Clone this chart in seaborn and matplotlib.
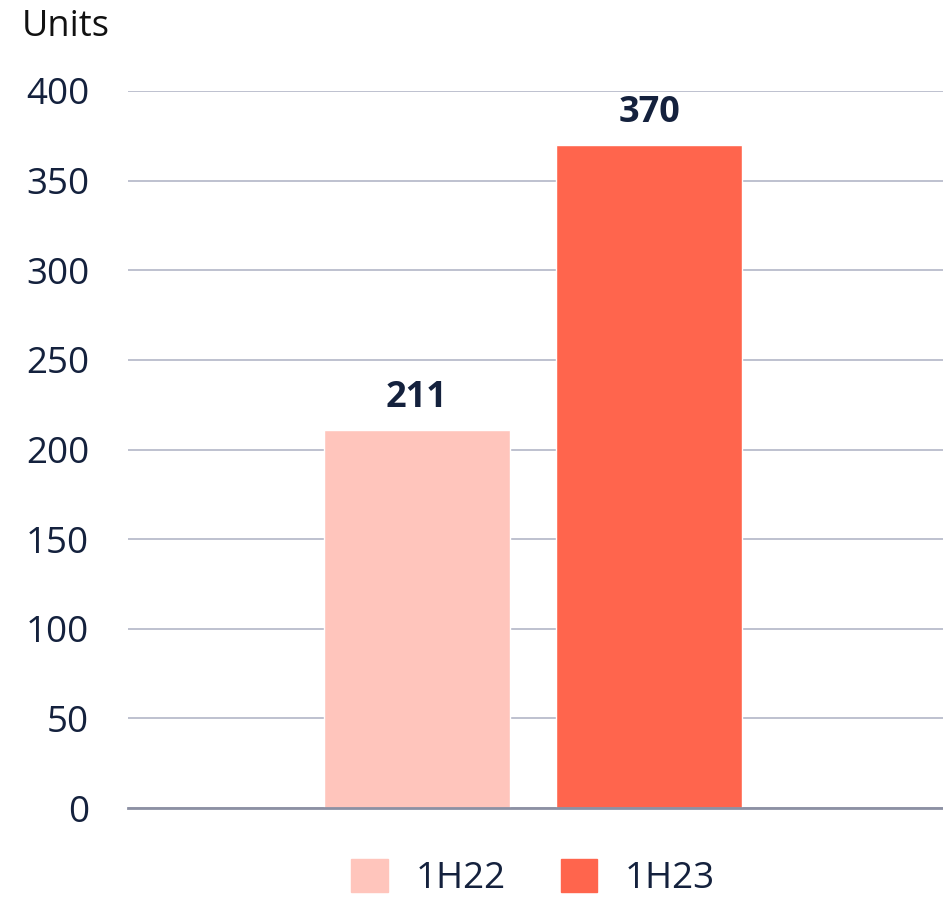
import pandas as pd
import seaborn as sns
import matplotlib.pyplot as plt

# data
periods = ['1H22', '1H23']
units = [211, 370]
colors = ['#FFC5BC', '#FF654D']

df = pd.DataFrame({'cat': ['all', 'all'], 'period': periods, 'units': units})

sns.set_style('white')
plt.rcParams['font.family'] = ['Open Sans', 'DejaVu Sans']
navy = '#14213D'

fig = plt.figure(figsize=(9.43, 8.99), dpi=100)
ax = fig.add_axes([128 / 943, 1 - 808 / 899, 1 - 128 / 943, (808 - 91) / 899])

sns.barplot(data=df, x='cat', y='units', hue='period', palette=colors,
            width=0.57, gap=0.2, saturation=1, legend=False, ax=ax)

ax.set_xlim(-0.497, 0.503)
ax.set_ylim(0, 400)
ax.set_yticks(range(0, 401, 50))
ax.yaxis.grid(True, color='#B9BCCB', linewidth=1.3)
ax.set_axisbelow(True)
for s in ['top', 'right', 'left']:
    ax.spines[s].set_visible(False)
ax.spines['bottom'].set_color('#8C90A3')
ax.spines['bottom'].set_linewidth(2)
ax.set_xticks([])
ax.set_xlabel('')
ax.set_ylabel('')
ax.tick_params(axis='y', length=0, pad=28, labelsize=26.5, labelcolor=navy)

# value labels
for cont in ax.containers:
    ax.bar_label(cont, padding=10, fontsize=26, fontweight='bold', color=navy)

fig.text(22 / 943, 1 - 27 / 899, 'Units', fontsize=26, color='#111111',
         ha='left', va='center')

handles = [plt.Rectangle((0, 0), 1, 1, color=c) for c in colors]
fig.legend(handles, periods, loc='lower center', bbox_to_anchor=(533 / 943, -0.035),
           ncol=2, frameon=False, fontsize=26.5, labelcolor=navy,
           handlelength=1.0, handleheight=1.0, columnspacing=1.5, handletextpad=0.75)

fig.savefig('out.png', dpi=100)
